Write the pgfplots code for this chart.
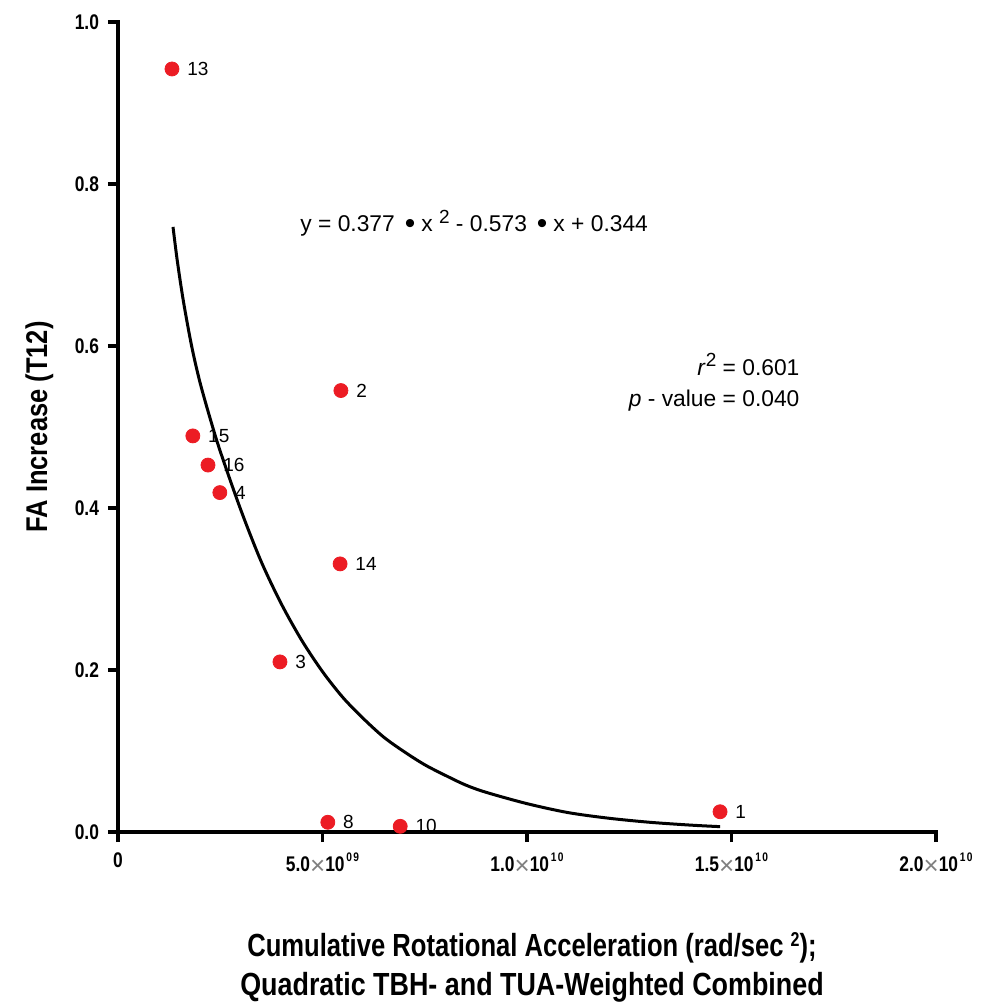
\documentclass[border=0pt]{standalone}
\usepackage{graphicx}
\usepackage{pgfplots}
\pgfplotsset{compat=1.18}
\usepackage{pgfplotstable}
\usepackage{fontspec}
\setmainfont{Liberation Sans}

\definecolor{ptred}{RGB}{236,28,36}

% narrow bold text for ticks and axis titles
\newcommand{\nb}[2][0.82]{\scalebox{#1}[1]{\bfseries #2}}
% tick label of the form a x 10^b
\newcommand{\sci}[2]{{\fontsize{10.6}{12}\selectfont\nb{#1}\raisebox{-1.8pt}{\fontsize{13}{13}\selectfont\mdseries\textcolor{gray}{×}}\nb{10}\kern0.8pt\raisebox{4.8pt}{\fontsize{6.2}{6}\selectfont\nb{#2}}}}
% multiplication dot of the fitted equation
\newcommand{\mdot}{\raisebox{-1.2pt}{\fontsize{15}{15}\selectfont•}}

% subjects: cumulative rotational acceleration vs. FA increase
\pgfplotstableread{
x        y      id
1.32e9   0.942  13
1.83e9   0.489  15
2.20e9   0.453  16
2.49e9   0.419  4
5.45e9   0.545  2
5.43e9   0.331  14
3.96e9   0.210  3
5.13e9   0.012  8
6.90e9   0.007  10
1.472e10 0.025  1
}\subjects

% fitted curve, sampled
\pgfplotstableread{
x        y
1.345e9  0.747
1.45e9   0.705
1.60e9   0.655
1.80e9   0.600
2.00e9   0.556
2.25e9   0.511
2.50e9   0.470
3.00e9   0.398
3.50e9   0.334
4.00e9   0.281
4.50e9   0.236
5.00e9   0.198
5.50e9   0.166
6.00e9   0.140
6.50e9   0.117
7.00e9   0.099
7.50e9   0.083
8.00e9   0.070
8.50e9   0.058
9.00e9   0.049
10.0e9   0.035
11.0e9   0.024
12.0e9   0.017
13.0e9   0.012
14.0e9   0.0085
14.72e9  0.0066
}\fitcurve

\begin{document}
\begin{tikzpicture}
\useasboundingbox (-59pt,-87pt) rectangle (431pt,416pt);
\begin{axis}[
  at={(0,0)}, anchor=south west,
  scale only axis,
  width=409pt, height=405pt,
  xmin=0, xmax=2e10, ymin=0, ymax=1,
  scaled x ticks=false, scaled y ticks=false,
  clip=false,
  axis x line*=bottom, axis y line*=left,
  axis line style={line width=1.8pt, line cap=rect},
  tick align=outside,
  major tick length=5pt,
  every tick/.style={line width=1.8pt, black},
  xtick={0,5e9,1e10,1.5e10,2e10},
  xticklabels={
    {\fontsize{10.6}{12}\selectfont\nb{0}},
    \sci{5.0}{0\kern0.9pt 9},
    \sci{1.0}{1\kern0.9pt 0},
    \sci{1.5}{1\kern0.9pt 0},
    \sci{2.0}{1\kern0.9pt 0}},
  ytick={0,0.2,0.4,0.6,0.8,1.0},
  yticklabels={\nb{0.0},\nb{0.2},\nb{0.4},\nb{0.6},\nb{0.8},\nb{1.0}},
  tick label style={font=\fontsize{10.6}{12}\selectfont},
  xticklabel style={yshift=-2pt},
  yticklabel style={xshift=-1pt},
  xlabel={\nb[0.80]{Cumulative Rotational Acceleration (rad/sec \raisebox{5pt}{\fontsize{10}{10}\selectfont 2});}\\
          \nb[0.84]{Quadratic TBH- and TUA-Weighted Combined}},
  xlabel style={at={(axis description cs:0.5,-0.1617)}, anchor=center, align=center,
    xshift=2.5pt, yshift=-2pt, font=\fontsize{16}{19.5}\selectfont},
  ylabel={\nb[0.85]{FA Increase (T12)}},
  ylabel style={at={(axis description cs:-0.096,0.5)}, anchor=center,
    font=\fontsize{15}{17}\selectfont},
]
\addplot[black, line width=1.5pt, smooth, no marks] table[x=x, y=y] {\fitcurve};

\addplot[only marks, mark=*, mark size=3.5pt, ptred, mark options={draw=none, fill=ptred},
  nodes near coords, point meta=explicit symbolic,
  every node near coord/.append style={anchor=west, inner sep=0pt, xshift=7.5pt,
    text=black, font=\fontsize{9.5}{11}\selectfont}]
  table[x=x, y=y, meta=id] {\subjects};

\node[anchor=west, inner sep=0pt, font=\fontsize{11.4}{13}\selectfont]
  at (axis cs:4.45e9,0.752)
  {y = 0.377\kern5pt\mdot\kern3pt x \raisebox{4pt}{\fontsize{9.5}{10}\selectfont 2} - 0.573\kern5pt\mdot\kern3pt x + 0.344};
\node[anchor=east, inner sep=0pt, font=\fontsize{11.4}{13}\selectfont]
  at (axis cs:16.67e9,0.577) {\textit{r}\raisebox{4.5pt}{\fontsize{9.5}{10}\selectfont 2} = 0.601};
\node[anchor=east, inner sep=0pt, font=\fontsize{11.4}{13}\selectfont]
  at (axis cs:16.67e9,0.533) {\textit{p} - value = 0.040};
\end{axis}
\end{tikzpicture}
\end{document}
